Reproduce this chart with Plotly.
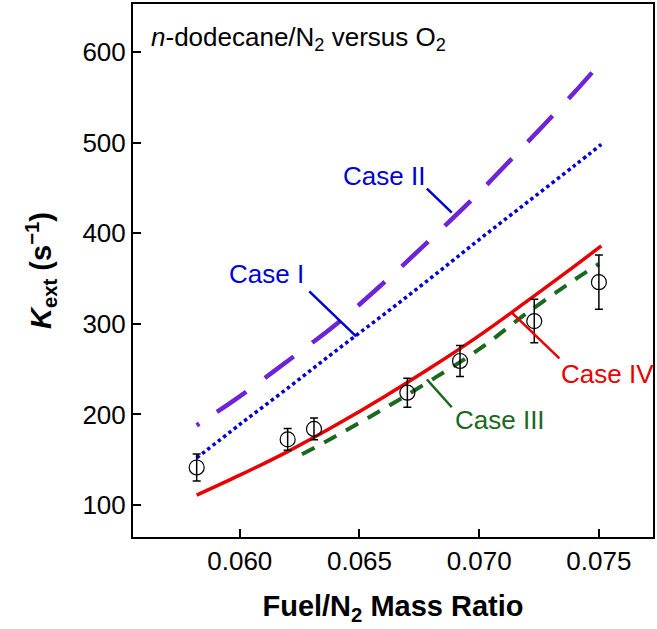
import plotly.graph_objects as go

# Measured extinction strain rates (n-dodecane/N2 vs O2)
exp_ratio = [0.0582, 0.0620, 0.0631, 0.0670, 0.0692, 0.0723, 0.0750]
exp_kext = [141.5, 172.5, 184, 224, 259, 303, 346]
exp_err = [15, 12, 12, 16, 17, 24, 30]

# Computed curves
grid = [0.0582, 0.0600, 0.0620, 0.0640, 0.0660, 0.0680, 0.0700, 0.0720, 0.0740, 0.0751]
case1 = [152, 189, 229, 270, 310, 351, 393, 434, 475, 498]
case2 = [188, 220, 259, 299, 345, 394, 445, 500, 556, 589]
case4 = [111, 133, 159, 188, 219, 252, 287, 325, 364, 386]
grid3 = [0.0626, 0.0640, 0.0660, 0.0680, 0.0700, 0.0720, 0.0740, 0.0750]
case3 = [156, 176, 206, 238, 272, 312, 349, 366]

x_ticks = [0.060, 0.065, 0.070, 0.075]
x_ticktext = ["0.060", "0.065", "0.070", "0.075"]
y_ticks = [100, 200, 300, 400, 500, 600]

FONT = "Arial, Liberation Sans, sans-serif"
purple = "rgb(110,35,215)"
blue = "rgb(0,0,210)"
green = "rgb(25,105,30)"
red = "rgb(232,0,0)"

fig = go.Figure()

fig.add_trace(go.Scatter(
    x=grid, y=case2, mode="lines",
    line=dict(color=purple, width=4.5, shape="spline",
              dash="3px,21px" + ",36px,23px" * 12),
))
fig.add_trace(go.Scatter(
    x=grid, y=case1, mode="lines",
    line=dict(color=blue, width=3.5, shape="spline", dash="3.5px,3.2px"),
))
fig.add_trace(go.Scatter(
    x=grid3, y=case3, mode="lines",
    line=dict(color=green, width=4, shape="spline", dash="14px,11px"),
))
fig.add_trace(go.Scatter(
    x=grid, y=case4, mode="lines",
    line=dict(color=red, width=3.5, shape="spline"),
))
fig.add_trace(go.Scatter(
    x=exp_ratio, y=exp_kext, mode="markers",
    marker=dict(symbol="circle-open", size=15, color="black",
                line=dict(width=1.2, color="black")),
    error_y=dict(type="data", array=exp_err, visible=True,
                 color="black", thickness=1.5, width=4),
))

# Case labels with leader lines
labels = [
    ("Case I", blue, 267, 274, (310, 291), (357, 336)),
    ("Case II", blue, 385, 175, (428, 188), (453, 212)),
    ("Case III", green, 501, 420, (428, 379), (453, 407)),
    ("Case IV", red, 609, 374, (513, 312), (561, 358)),
]

L, T, W, H = 133, 3, 522, 534
xr = [0.05554, 0.07726]
yr = [64.8, 652.9]


def px_to_data(px, py):
    xv = xr[0] + (px - L) / W * (xr[1] - xr[0])
    yv = yr[1] - (py - T) / H * (yr[1] - yr[0])
    return xv, yv


for text, col, tx, ty, p0, p1 in labels:
    x0, y0 = px_to_data(*p0)
    x1, y1 = px_to_data(*p1)
    fig.add_shape(type="line", x0=x0, y0=y0, x1=x1, y1=y1,
                  line=dict(color=col, width=2.5), xref="x", yref="y")
    ax, ay = px_to_data(tx, ty)
    fig.add_annotation(x=ax, y=ay, text=text, showarrow=False,
                       font=dict(family=FONT, size=26, color=col),
                       xanchor="center", yanchor="middle")

fig.add_annotation(
    xref="paper", yref="paper", x=(149 - L) / W, y=(T + H - 38) / H,
    text="<i>n</i>-dodecane/N<sub>2</sub> versus O<sub>2</sub>",
    showarrow=False, xanchor="left", yanchor="middle",
    font=dict(family=FONT, size=26, color="black"),
)

axis_common = dict(
    showline=True, linecolor="black", linewidth=2, mirror=True,
    ticks="inside", ticklen=8, tickwidth=1.5, tickcolor="black",
    showgrid=False, zeroline=False,
    tickfont=dict(family=FONT, size=26, color="black"),
)

fig.update_layout(
    width=657, height=629,
    margin=dict(l=L, r=657 - L - W, t=T, b=629 - T - H),
    plot_bgcolor="white", paper_bgcolor="white",
    showlegend=False,
    xaxis=dict(range=xr, tickvals=x_ticks, ticktext=x_ticktext,
               title=dict(text="<b>Fuel/N<sub>2</sub> Mass Ratio</b>",
                          font=dict(family=FONT, size=29, color="black"),
                          standoff=20),
               **axis_common),
    yaxis=dict(range=yr, tickvals=y_ticks,
               title=dict(text="<b><i>K</i><sub>ext</sub> (s<sup>\u2212</sup><sup>1</sup>)</b>",
                          font=dict(family=FONT, size=29, color="black"),
                          standoff=22),
               **axis_common),
)

fig.write_html("out.html")
